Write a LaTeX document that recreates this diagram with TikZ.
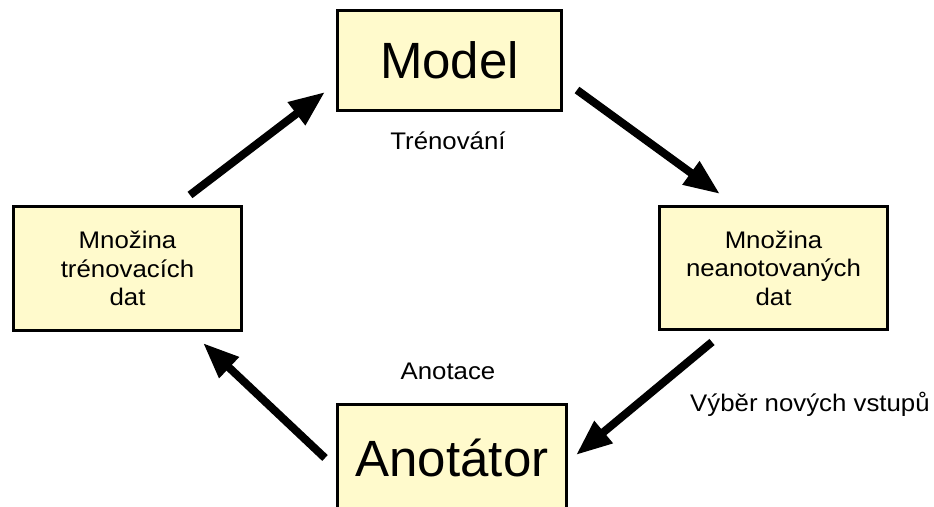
\documentclass[tikz,border=0pt]{standalone}
\usepackage{fontspec}
\setmainfont{Liberation Sans}
\newfontfamily\labelsans[FakeStretch=1.075]{Liberation Sans}
\usetikzlibrary{arrows.meta}
\definecolor{boxfill}{HTML}{FFFACC}
\tikzset{
  box/.style={draw=black, line width=3pt, fill=boxfill, inner sep=0pt, align=center},
  bigtext/.style={font=\fontsize{51}{60}\selectfont},
  smalltext/.style={font=\labelsans\fontsize{24}{28.5}\selectfont},
  flow/.style={line width=8pt, -{Triangle[length=36pt,width=27pt]}},
  lbl/.style={inner sep=0pt, font=\labelsans\fontsize{24}{28.5}\selectfont}
}
\begin{document}
\begin{tikzpicture}[x=1pt,y=1pt]
  \fill[white] (0,0) rectangle (934,506);
  \useasboundingbox (0,0) rectangle (934,506);
  \clip (0,0) rectangle (934,506);

  % boxes of the cycle
  \node[box, bigtext, minimum width=224pt, minimum height=100pt] (model) at (449.5,445.5) {Model};
  \node[box, smalltext, minimum width=228pt, minimum height=124pt] (trainset) at (127.5,237.5) {Množina\\trénovacích\\dat};
  \node[box, smalltext, minimum width=228pt, minimum height=123pt] (poolset) at (773.5,238) {Množina\\neanotovaných\\dat};
  \node[box, bigtext, minimum width=229pt, minimum height=106pt] (annot) at (452,48.5) {Anotátor};

  % arrow end points
  \coordinate (a1s) at (190,311);
  \coordinate (a1e) at (325,414);
  \coordinate (a2s) at (577,416);
  \coordinate (a2e) at (720,312);
  \coordinate (a3s) at (712,164);
  \coordinate (a3e) at (576,51);
  \coordinate (a4s) at (325,48);
  \coordinate (a4e) at (203,163);

  \draw[flow] (a1s) -- (a1e);
  \draw[flow] (a2s) -- (a2e);
  \draw[flow] (a3s) -- (a3e);
  \draw[flow] (a4s) -- (a4e);

  % step labels
  \node[lbl, anchor=base] (ltrain) at (448,356) {Trénování};
  \node[lbl, anchor=base] (lannot) at (448,126) {Anotace};
  \node[lbl, anchor=base west] (lselect) at (690,94) {Výběr nových vstupů};
\end{tikzpicture}
\end{document}
